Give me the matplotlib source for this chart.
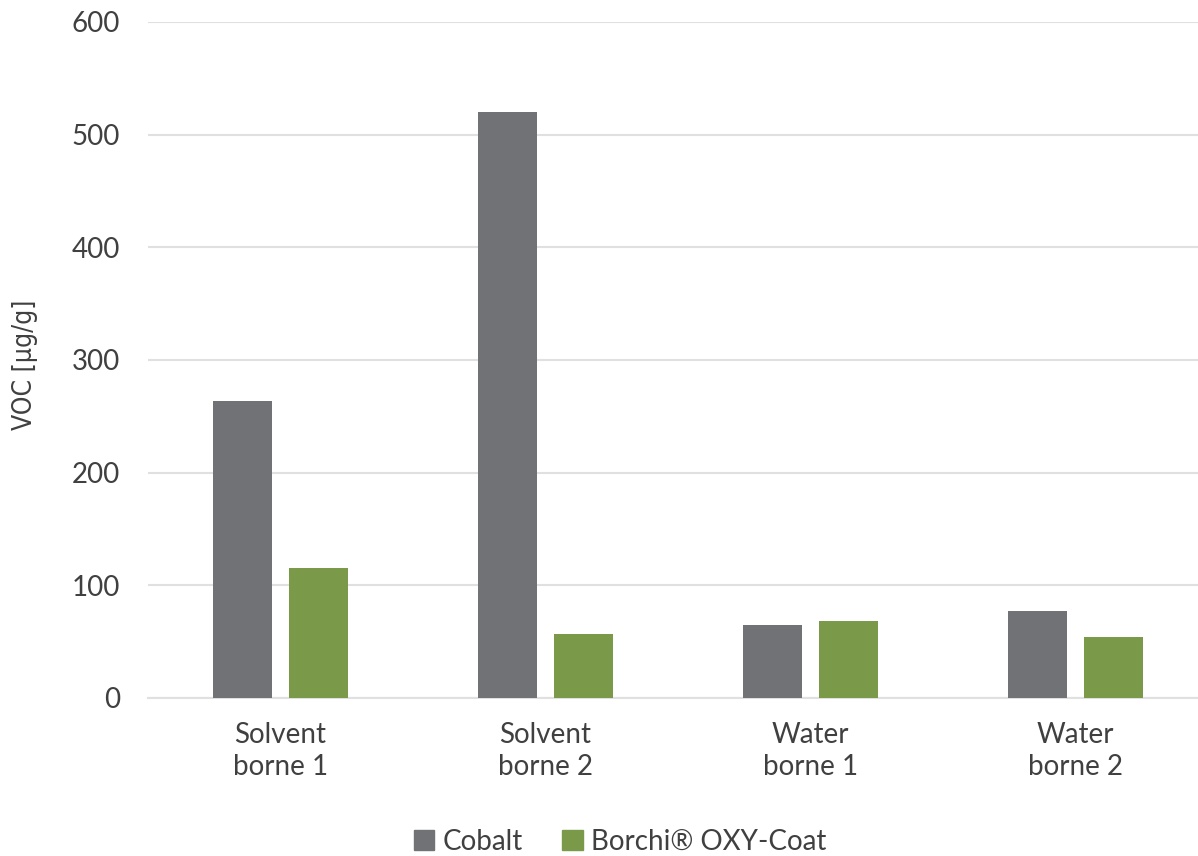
import numpy as np
import matplotlib.pyplot as plt
from matplotlib.patches import Patch

# VOC emissions per coating system
categories = ['Solvent\nborne 1', 'Solvent\nborne 2', 'Water\nborne 1', 'Water\nborne 2']
cobalt = [264, 520, 65, 77]
borchi = [115, 57, 68, 54]
series_names = ['Cobalt', 'Borchi® OXY-Coat']
y_ticks = [0, 100, 200, 300, 400, 500, 600]

col_cobalt = '#717276'
col_borchi = '#7A9A4A'
text_col = '#404040'

plt.rcParams['font.family'] = ['Lato', 'DejaVu Sans']

fig = plt.figure(figsize=(11.98, 8.56), dpi=100)
ax = fig.add_axes([148 / 1198, 1 - 698 / 856, 1060 / 1198, 676 / 856])

x = np.arange(len(categories))
w = 0.223
off = 0.144
ax.bar(x - off, cobalt, w, color=col_cobalt, zorder=3)
ax.bar(x + off, borchi, w, color=col_borchi, zorder=3)

ax.set_xlim(-0.5, len(categories) - 0.5)
ax.set_ylim(0, 600)
ax.set_yticks(y_ticks)
ax.set_xticks(x)
ax.set_xticklabels(categories, fontsize=20, color=text_col, linespacing=1.32)
ax.tick_params(axis='y', labelsize=20, labelcolor=text_col, length=0, pad=20)
ax.tick_params(axis='x', length=0, pad=17)

ax.grid(axis='y', color='#E0E0E0', linewidth=1.5, zorder=0)
for s in ['top', 'right', 'left']:
    ax.spines[s].set_visible(False)
ax.spines['bottom'].set_color('#E0E0E0')
ax.spines['bottom'].set_linewidth(1.5)

fig.text(25 / 1198, 1 - 365 / 856, 'VOC [µg/g]', rotation=90, va='center', ha='center',
         fontsize=19, color=text_col, stretch='condensed',
         family=['Liberation Sans Narrow', 'DejaVu Sans'])

handles = [Patch(color=col_cobalt), Patch(color=col_borchi)]
fig.legend(handles, series_names, loc='center', bbox_to_anchor=(620 / 1198, 1 - 842 / 856),
           ncol=2, frameon=False, fontsize=20, handlelength=0.75, handleheight=0.75,
           handletextpad=0.3, columnspacing=1.4, labelcolor=text_col)

fig.savefig('out.png', dpi=100)
